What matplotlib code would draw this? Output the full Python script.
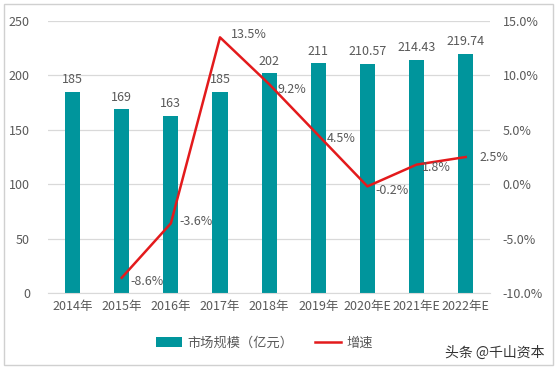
import matplotlib
matplotlib.use("Agg")
import matplotlib.pyplot as plt
from matplotlib.patches import Rectangle

plt.rcParams['font.family'] = ['Noto Sans CJK SC', 'DejaVu Sans']

categories = ["2014年", "2015年", "2016年", "2017年", "2018年", "2019年", "2020年E", "2021年E", "2022年E"]
market = [185, 169, 163, 185, 202, 211, 210.57, 214.43, 219.74]
market_labels = ["185", "169", "163", "185", "202", "211", "210.57", "214.43", "219.74"]
growth_idx = [1, 2, 3, 4, 5, 6, 7, 8]
growth = [-8.6, -3.6, 13.5, 9.2, 4.5, -0.2, 1.8, 2.5]

bar_color = "#00959C"
line_color = "#E31A1C"
text_color = "#595959"
grid_color = "#D9D9D9"

fig = plt.figure(figsize=(5.57, 3.69), dpi=100)
fig.patches.append(Rectangle((0.008, 0.012), 0.984, 0.976, transform=fig.transFigure,
                             fill=False, edgecolor="#D0D0D0", linewidth=1))
ax = fig.add_axes([0.0862, 0.206, 0.794, 0.737])
x = list(range(len(categories)))
bars = ax.bar(x, market, width=0.31, color=bar_color, zorder=2, label="市场规模（亿元）")
ax.set_ylim(0, 250)
ax.set_yticks([0, 50, 100, 150, 200, 250])
ax.set_xlim(-0.5, len(categories) - 0.5)
ax.set_xticks(x)
ax.set_xticklabels(categories)
ax.grid(axis='y', color=grid_color, linewidth=0.9, zorder=0)
for s in ["top", "right", "left"]:
    ax.spines[s].set_visible(False)
ax.spines["bottom"].set_color(grid_color)
ax.tick_params(axis='both', length=0, colors=text_color, labelsize=9)
ax.tick_params(axis='y', pad=13)
ax.tick_params(axis='x', pad=5)
for xi, v, lab in zip(x, market, market_labels):
    ax.annotate(lab, (xi, v), xytext=(0, 4), textcoords="offset points",
                ha="center", va="bottom", fontsize=9, color=text_color)

ax2 = ax.twinx()
ln, = ax2.plot(growth_idx, growth, color=line_color, linewidth=1.8, zorder=3, label="增速")
ax2.set_ylim(-10, 15)
ax2.set_yticks([-10, -5, 0, 5, 10, 15])
ax2.set_yticklabels([f"{t:.1f}%" for t in [-10, -5, 0, 5, 10, 15]])
for s in ["top", "right", "left", "bottom"]:
    ax2.spines[s].set_visible(False)
ax2.tick_params(axis='y', length=0, colors=text_color, labelsize=9, pad=9)

offsets = {
    -8.6: (6, -3), -3.6: (6, 1), 13.5: (8, 2), 9.2: (6, -4), 4.5: (6, -2),
    -0.2: (6, -3), 1.8: (4, -2), 2.5: (10, 0)
}
for xi, g in zip(growth_idx, growth):
    dx, dy = offsets[g]
    ax2.annotate(f"{g}%", (xi, g), xytext=(dx, dy), textcoords="offset points",
                 ha="left", va="center", fontsize=9, color=text_color)

fig.legend(handles=[bars, ln], labels=["市场规模（亿元）", "增速"], loc="center",
           bbox_to_anchor=(0.475, 0.07), ncol=2, frameon=False, fontsize=9.5,
           labelcolor=text_color, handlelength=2.0, columnspacing=1.6, handletextpad=0.4)
fig.text(0.978, 0.045, "头条 @千山资本", ha="right", va="center", fontsize=10, color="#333333")

fig.savefig("out.png", dpi=100)
